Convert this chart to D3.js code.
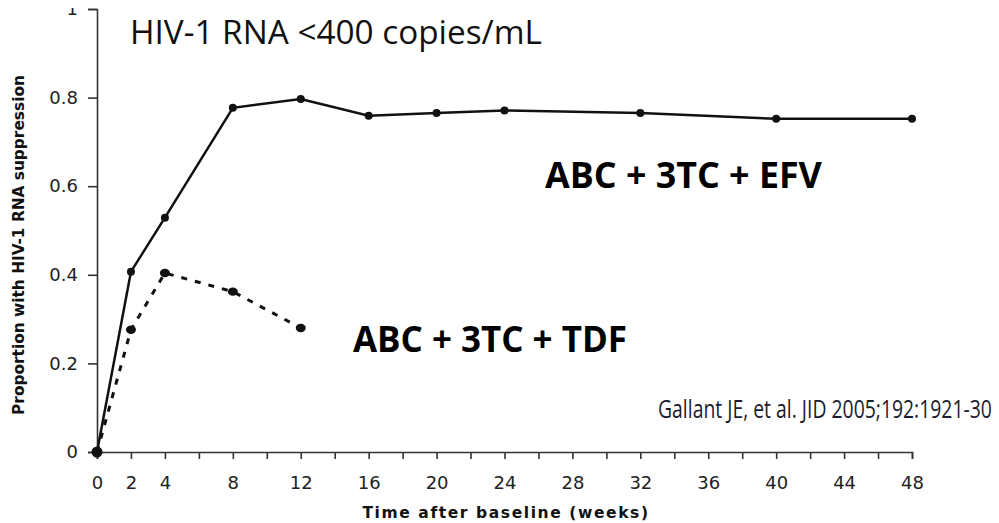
<!DOCTYPE html>
<html>
<head>
<meta charset="utf-8">
<script src="https://cdn.jsdelivr.net/npm/d3@7"></script>
<style>
  html, body { margin: 0; padding: 0; background: #fff; }
  svg { display: block; }
</style>
</head>
<body>
<svg id="chart" width="999" height="523"></svg>
<script>
// data
const weeksEFV = [0, 2, 4, 8, 12, 16, 20, 24, 32, 40, 48];
const valuesEFV = [0, 0.407, 0.529, 0.777, 0.797, 0.759, 0.765, 0.771, 0.765, 0.752, 0.752];
const weeksTDF = [0, 2, 4, 8, 12];
const valuesTDF = [0, 0.276, 0.404, 0.362, 0.280];
const xTickLabels = [0, 2, 4, 8, 12, 16, 20, 24, 28, 32, 36, 40, 44, 48];
const yTickLabels = [0, 0.2, 0.4, 0.6, 0.8, 1];

const svg = d3.select("svg#chart");

const x = d3.scaleLinear().domain([0, 48]).range([97, 912]);
const y = d3.scaleLinear().domain([0, 1]).range([452, 9]);

const tickFont = "'DejaVu Sans', sans-serif";
const labelFont = "'Open Sans', sans-serif";

// shrink/grow a text's font so it spans the given width
function fitWidth(sel, width) {
    const size = parseFloat(sel.style("font-size"));
    const w = sel.node().getComputedTextLength();
    sel.style("font-size", (size * width / w).toFixed(2) + "px");
    return sel;
}

// y axis
const yAxis = svg.append("g")
    .attr("transform", "translate(97,0)")
    .call(d3.axisLeft(y)
        .tickValues(yTickLabels)
        .tickSize(9)
        .tickPadding(10)
        .tickFormat(d => d === 0 ? "0" : d === 1 ? "1" : d3.format(".1f")(d)));

// x axis, ticks every 2 weeks, labels only on some
const xAxis = svg.append("g")
    .attr("transform", "translate(0,452)")
    .call(d3.axisBottom(x)
        .tickValues(d3.range(0, 49, 2))
        .tickSize(7)
        .tickPadding(17)
        .tickFormat(d => xTickLabels.includes(d) ? d : ""));

[yAxis, xAxis].forEach(g => {
    g.select(".domain").attr("stroke", "#333").attr("stroke-width", 1.6);
    g.selectAll(".tick line").attr("stroke", "#333").attr("stroke-width", 1.6);
    g.selectAll(".tick text")
        .attr("fill", "#222")
        .style("font-family", tickFont)
        .style("font-size", "18px");
});

// top of the figure is cropped in the original
svg.append("rect")
    .attr("x", 50).attr("y", 0)
    .attr("width", 40).attr("height", 8)
    .attr("fill", "#fff");

// axis titles
fitWidth(svg.append("text")
    .attr("transform", "translate(24,245) rotate(-90)")
    .attr("text-anchor", "middle")
    .style("font-family", tickFont)
    .style("font-weight", "bold")
    .style("font-size", "14px")
    .attr("fill", "#111")
    .text("Proportion with HIV-1 RNA suppression"), 340);

svg.append("text")
    .attr("x", 506)
    .attr("y", 518)
    .attr("text-anchor", "middle")
    .style("font-family", tickFont)
    .style("font-weight", "bold")
    .style("font-size", "15.5px")
    .style("letter-spacing", "1.6px")
    .attr("fill", "#111")
    .text("Time after baseline (weeks)");

// lines
const lineEFV = d3.line().x((d, i) => x(weeksEFV[i])).y(d => y(d));
const lineTDF = d3.line().x((d, i) => x(weeksTDF[i])).y(d => y(d));

svg.append("path")
    .attr("d", lineTDF(valuesTDF))
    .attr("fill", "none")
    .attr("stroke", "#111")
    .attr("stroke-width", 3)
    .attr("stroke-dasharray", "6,8");

svg.append("path")
    .attr("d", lineEFV(valuesEFV))
    .attr("fill", "none")
    .attr("stroke", "#111")
    .attr("stroke-width", 2.5);

svg.append("g").selectAll("ellipse")
    .data(valuesTDF)
    .join("ellipse")
    .attr("cx", (d, i) => x(weeksTDF[i]))
    .attr("cy", d => y(d))
    .attr("rx", 5)
    .attr("ry", 4.2)
    .attr("fill", "#111");

svg.append("g").selectAll("circle")
    .data(valuesEFV)
    .join("circle")
    .attr("cx", (d, i) => x(weeksEFV[i]))
    .attr("cy", d => y(d))
    .attr("r", (d, i) => i === 0 ? 5.5 : 4)
    .attr("fill", "#111");

// annotations
fitWidth(svg.append("text")
    .attr("x", 130).attr("y", 44)
    .style("font-family", labelFont)
    .style("font-size", "30px")
    .attr("fill", "#111")
    .text("HIV-1 RNA <400 copies/mL"), 412);

fitWidth(svg.append("text")
    .attr("x", 545).attr("y", 188)
    .style("font-family", labelFont)
    .style("font-weight", "bold")
    .style("font-size", "34px")
    .attr("fill", "#000")
    .text("ABC + 3TC + EFV"), 277);

fitWidth(svg.append("text")
    .attr("x", 353).attr("y", 352)
    .style("font-family", labelFont)
    .style("font-weight", "bold")
    .style("font-size", "34px")
    .attr("fill", "#000")
    .text("ABC + 3TC + TDF"), 274);

// citation: narrow face in the original, so squeeze it sideways
const cite = svg.append("g");
const citeText = cite.append("text")
    .style("font-family", labelFont)
    .style("font-size", "25px")
    .attr("fill", "#1c1c30")
    .text("Gallant JE, et al. JID 2005;192:1921-30");
const sx = 334 / citeText.node().getComputedTextLength();
cite.attr("transform", `translate(658,418) scale(${sx.toFixed(3)},1)`);
</script>
</body>
</html>
